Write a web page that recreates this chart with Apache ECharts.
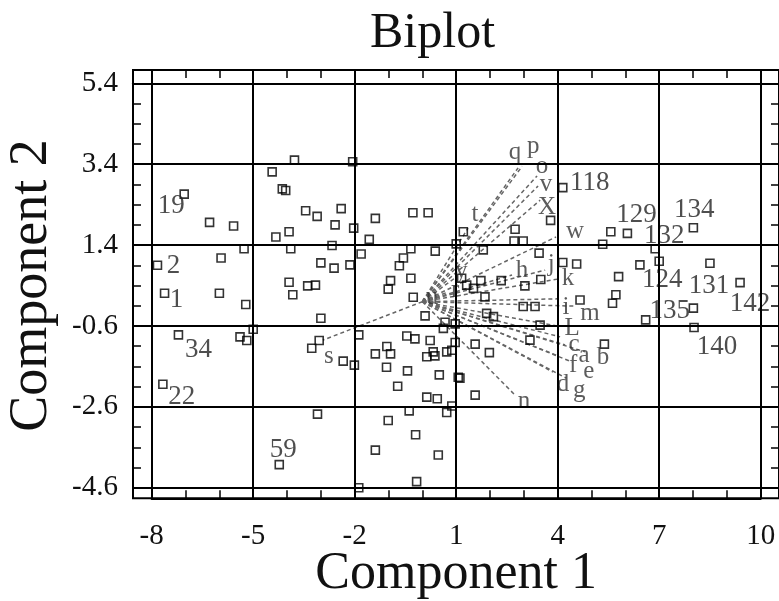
<!DOCTYPE html>
<html>
<head>
<meta charset="utf-8">
<script src="https://cdn.jsdelivr.net/npm/echarts@6/dist/echarts.min.js"></script>
<style>
  html, body { margin: 0; padding: 0; background: #fff; }
  #chart { width: 779px; height: 601px; }
</style>
</head>
<body>
<div id="chart"></div>
<script>
// tick values of the two components
const xTicks = [-8, -5, -2, 1, 4, 7, 10]
const yTicks = [-4.6, -2.6, -0.6, 1.4, 3.4, 5.4]

// observations without a label [component 1, component 2]
const points = [
  [-3.78, 3.50], [-2.06, 3.46], [-4.44, 3.21], [-4.14, 2.79], [-4.04, 2.75],
  [-6.29, 1.96], [-5.58, 1.87], [-3.45, 2.25], [-3.11, 2.11], [-2.40, 2.30],
  [-2.58, 1.90], [-2.03, 1.82], [-1.39, 2.06], [-0.28, 2.20], [0.17, 2.20],
  [-3.94, 1.73], [-4.33, 1.60], [-1.57, 1.54], [1.00, 1.43], [-5.27, 1.31],
  [-3.89, 1.31], [-2.67, 1.39], [-1.81, 1.18], [-0.34, 1.31], [0.38, 1.25],
  [-0.56, 1.08], [-0.68, 0.89], [-5.95, 1.08], [-3.00, 0.96], [-2.61, 0.83],
  [-2.14, 0.91], [-6.00, 0.21], [-5.22, -0.07], [-3.94, 0.48], [-3.83, 0.17],
  [-3.39, 0.39], [-3.16, 0.41], [-3.00, -0.41], [-0.94, 0.52], [-1.01, 0.31],
  [-0.34, 0.58], [-0.27, 0.11], [0.08, -0.35], [-5.39, -0.87], [-5.19, -0.96],
  [-5.00, -0.68], [-3.27, -1.15], [-3.05, -0.96], [-2.34, -1.47], [-2.01, -1.57],
  [-1.88, -0.82], [-1.39, -1.29], [-1.05, -1.11], [-0.94, -1.29], [-1.06, -1.62],
  [-0.46, -0.85], [-0.22, -0.92], [-0.44, -1.71], [-0.73, -2.09], [0.23, -0.96],
  [0.13, -1.36], [0.32, -1.24], [0.37, -1.34], [0.72, -1.24], [0.87, -1.20],
  [0.62, -0.66], [0.67, -0.51], [0.97, -0.55], [0.97, -1.01], [0.50, -1.81],
  [0.13, -2.36], [0.44, -2.40], [0.87, -2.58], [0.72, -2.74], [1.06, -1.87],
  [-0.39, -2.70], [-1.01, -2.94], [-3.10, -2.78], [-0.20, -3.29], [-1.39, -3.67],
  [0.47, -3.79], [-0.17, -4.45], [-1.88, -4.60], [1.21, 1.73], [1.80, 1.28],
  [2.74, 1.79], [2.71, 1.50], [2.98, 1.50], [3.45, 1.20], [3.79, 2.01],
  [5.33, 1.42], [5.57, 1.73], [4.15, 0.97], [4.56, 0.93], [6.43, 0.91],
  [5.80, 0.62], [5.72, 0.17], [5.62, -0.04], [8.01, -0.16], [4.66, 0.04],
  [5.38, -1.05], [3.48, -0.58], [2.98, -0.12], [3.33, -0.12], [3.03, 0.39],
  [3.50, 0.55], [3.18, -0.95], [2.33, 0.52], [1.73, 0.52], [1.85, 0.12],
  [1.90, -0.29], [2.10, -0.37], [1.56, -1.05], [1.98, -1.26], [1.56, -2.31],
  [1.11, -1.89], [1.16, 0.58], [1.31, 0.41], [1.51, 0.33]
]

// labelled observations [name, component 1, component 2]
const namedPoints = [
  ['19', -7.04, 2.66], ['2', -7.83, 0.90], ['1', -7.62, 0.21], ['34', -7.21, -0.82],
  ['22', -7.67, -2.04], ['59', -4.23, -4.03], ['118', 4.15, 2.82], ['129', 6.06, 1.69],
  ['132', 6.88, 1.31], ['134', 8.01, 1.83], ['124', 7.00, 1.00], ['131', 8.50, 0.95],
  ['142', 9.39, 0.47], ['135', 6.60, -0.45], ['140', 8.03, -0.64]
]

// variable vectors [name, end on component 1, end on component 2]
const vectors = [
  ['q', 2.83, 3.31], ['p', 2.95, 3.35], ['o', 3.39, 3.11], ['v', 3.42, 2.86],
  ['X', 3.48, 2.51], ['w', 3.95, 1.60], ['t', 1.35, 1.82], ['h', 2.65, 0.66],
  ['j', 3.63, 0.78], ['k', 4.01, 0.56], ['i', 3.98, 0.07], ['m', 4.48, -0.11],
  ['L', 3.98, -0.60], ['c', 4.07, -0.87], ['a', 4.22, -1.07], ['b', 4.81, -1.24],
  ['f', 4.01, -1.34], ['e', 4.42, -1.49], ['d', 3.86, -1.74], ['g', 4.25, -1.89],
  ['n', 2.74, -2.31], ['s', -2.94, -0.95], ['u', 0.08, 0.14], ['r', 0.76, 0.24],
  ['y', 0.97, 0.59]
]

// label placement (pixels from the mark)
const pointLabelOffset = {
  '19': [-13, 12], '2': [16, 1], '1': [12, 7], '34': [20, 15], '22': [19, 13],
  '59': [4, -15], '118': [27, -5], '129': [9, -18], '132': [9, -13], '134': [1, -18],
  '124': [3, 19], '131': [-1, 23], '142': [10, 21], '135': [24, -9], '140': [23, 19]
}
const vectorLabelOffset = {
  q: [-3, -15], p: [11, -20], o: [5, -9], v: [8, -2], X: [7, 7], w: [19, -6],
  t: [7, -14], h: [10, -5], j: [6, -6], k: [10, -1], i: [9, 9], m: [16, 7],
  L: [15, 2], c: [14, 8], a: [19, 10], b: [18, 6], f: [15, 10], e: [17, 10],
  d: [10, 12], g: [13, 12], n: [9, 6], s: [6, 16], u: [7, 1], r: [7, -2], y: [6, -6]
}

const serif = 'Liberation Serif'
const squareStyle = {
  color: 'rgba(0,0,0,0)',
  borderColor: '#000',
  borderWidth: 1.6
}

function tickAxis(extra) {
  return Object.assign({
    type: 'value',
    gridIndex: 1,
    axisLine: { show: true, onZero: false, lineStyle: { color: '#000', width: 2 } },
    axisTick: { show: true, inside: true, length: 8, lineStyle: { color: '#000', width: 1.5 } },
    splitLine: { show: false },
    axisLabel: { show: false }
  }, extra)
}

var myChart = echarts.init(document.getElementById('chart'), null, { renderer: 'canvas' })

var option = {
  animation: false,
  backgroundColor: '#fff',
  title: {
    text: 'Biplot',
    left: 370,
    top: 9,
    padding: 0,
    textStyle: { fontFamily: serif, fontSize: 50, fontWeight: 'normal', color: '#111' }
  },
  grid: [
    // outer frame
    { left: 133, top: 70, right: 0, bottom: 102.7, show: true, borderColor: '#000', borderWidth: 2,
      backgroundColor: 'transparent', outerBoundsMode: 'none' },
    // -8..10 x -4.6..5.4 box used for ticks and labels
    { left: 151.7, top: 83.3, right: 18.3, bottom: 113.3, outerBoundsMode: 'none' }
  ],
  xAxis: [
    { type: 'value', gridIndex: 0, min: -8.553, max: 10.541, show: false },
    tickAxis({
      position: 'bottom', offset: 10.6, min: -8, max: 10, interval: 3,
      minorTick: { show: true, splitNumber: 3, length: 8, lineStyle: { color: '#000', width: 1.5 } },
      axisLabel: { show: true, margin: 24, fontFamily: serif, fontSize: 29, color: '#111' },
      name: 'Component 1',
      nameLocation: 'middle',
      nameGap: 50,
      nameMoveOverlap: false,
      nameTextStyle: { fontFamily: serif, fontSize: 52, color: '#111' }
    }),
    tickAxis({
      position: 'top', offset: 13.3, min: -8, max: 10, interval: 3,
      minorTick: { show: true, splitNumber: 3, length: 8, lineStyle: { color: '#000', width: 1.5 } }
    })
  ],
  yAxis: [
    { type: 'value', gridIndex: 0, min: -4.862, max: 5.729, show: false },
    tickAxis({
      position: 'left', offset: 18.7, min: -4.6, max: 5.4, interval: 2,
      minorTick: { show: true, splitNumber: 4, length: 8, lineStyle: { color: '#000', width: 1.5 } },
      axisLabel: {
        show: true, margin: 15, fontFamily: serif, fontSize: 29, color: '#111',
        formatter: v => v.toFixed(1)
      },
      name: 'Component 2',
      nameLocation: 'middle',
      nameGap: 74,
      nameMoveOverlap: false,
      nameTextStyle: { fontFamily: serif, fontSize: 54, color: '#111' }
    }),
    tickAxis({
      position: 'right', offset: 18.3, min: -4.6, max: 5.4, interval: 2,
      minorTick: { show: true, splitNumber: 4, length: 8, lineStyle: { color: '#000', width: 1.5 } }
    })
  ],
  series: [
    {
      // grid lines across the whole frame
      type: 'scatter',
      xAxisIndex: 0,
      yAxisIndex: 0,
      data: [],
      silent: true,
      markLine: {
        silent: true,
        symbol: ['none', 'none'],
        label: { show: false },
        lineStyle: { type: 'solid', color: '#000', width: 2 },
        data: xTicks.map(v => ({ xAxis: v })).concat(yTicks.map(v => ({ yAxis: v })))
      }
    },
    {
      type: 'lines',
      coordinateSystem: 'cartesian2d',
      xAxisIndex: 0,
      yAxisIndex: 0,
      silent: true,
      lineStyle: { color: '#666', width: 1.5, type: [4, 3], opacity: 1 },
      data: vectors.map(v => ({ coords: [[0, 0], [v[1], v[2]]] }))
    },
    {
      type: 'scatter',
      xAxisIndex: 0,
      yAxisIndex: 0,
      symbolSize: 1,
      silent: true,
      itemStyle: { color: 'rgba(0,0,0,0)' },
      label: {
        show: true,
        position: 'inside',
        align: 'center',
        verticalAlign: 'middle',
        fontFamily: serif,
        fontSize: 25,
        color: '#333',
        formatter: p => p.name
      },
      data: vectors.map(v => ({
        name: v[0],
        value: [v[1], v[2]],
        label: { offset: vectorLabelOffset[v[0]] }
      }))
    },
    {
      type: 'scatter',
      xAxisIndex: 0,
      yAxisIndex: 0,
      symbol: 'rect',
      symbolSize: 8,
      clip: false,
      itemStyle: squareStyle,
      data: points
    },
    {
      type: 'scatter',
      xAxisIndex: 0,
      yAxisIndex: 0,
      symbol: 'rect',
      symbolSize: 8,
      clip: false,
      itemStyle: squareStyle,
      label: {
        show: true,
        position: 'inside',
        align: 'center',
        verticalAlign: 'middle',
        fontFamily: serif,
        fontSize: 27,
        color: '#222',
        formatter: p => p.name
      },
      data: namedPoints.map(p => ({
        name: p[0],
        value: [p[1], p[2]],
        label: { offset: pointLabelOffset[p[0]] }
      }))
    }
  ]
}

myChart.setOption(option)
window.addEventListener('resize', myChart.resize)
</script>
</body>
</html>
